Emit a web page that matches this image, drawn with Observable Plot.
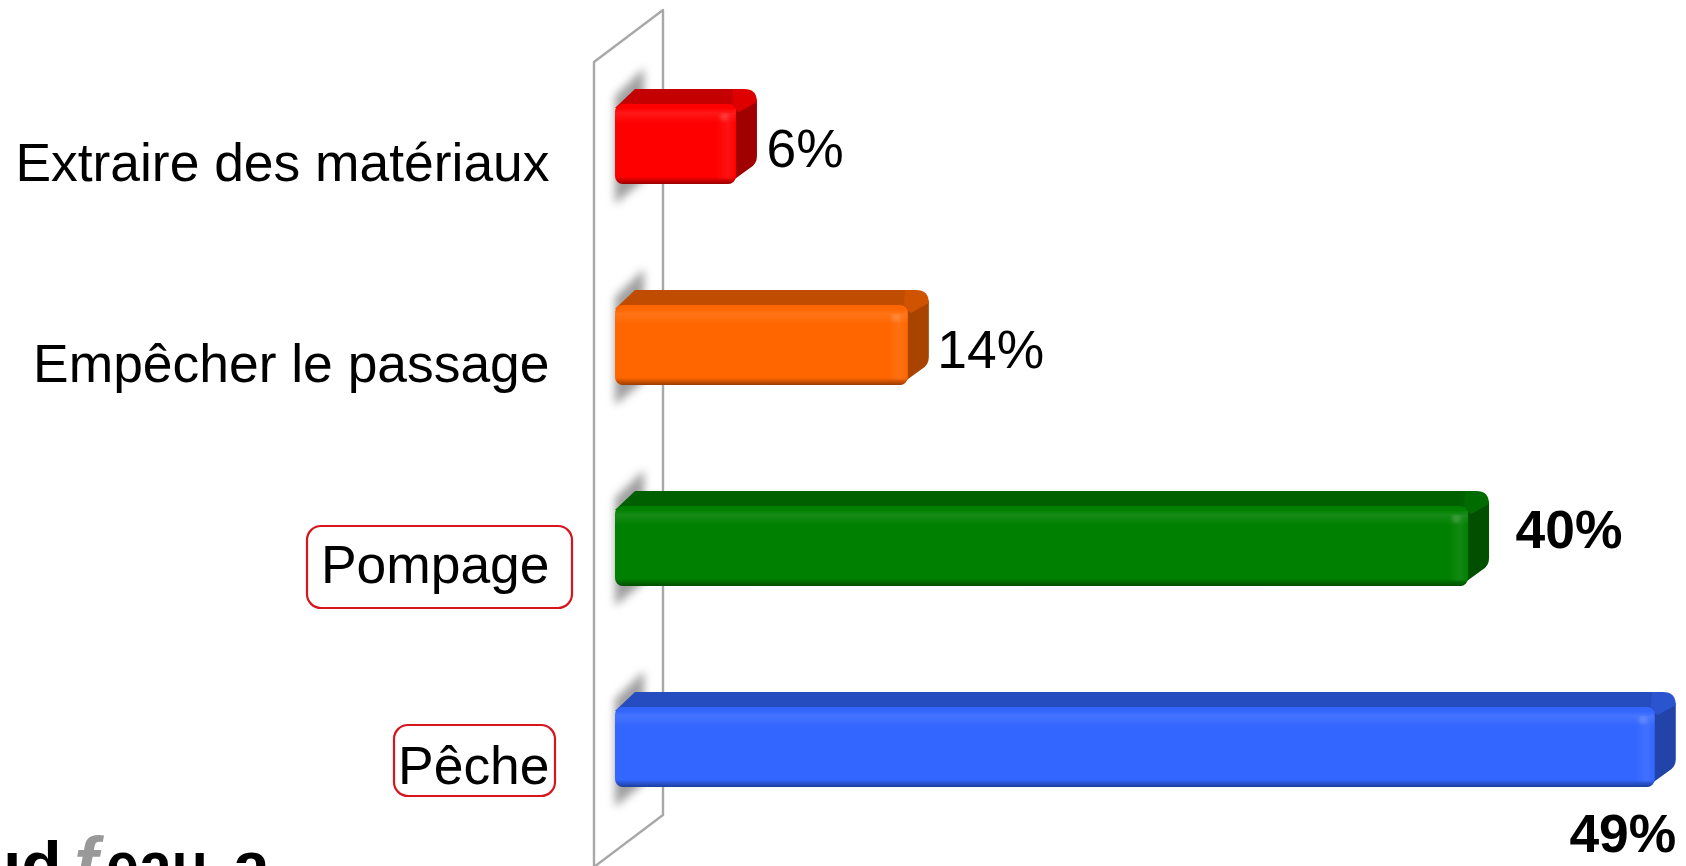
<!DOCTYPE html>
<html><head><meta charset="utf-8">
<script src="https://cdn.jsdelivr.net/npm/d3@7"></script>
<script src="https://cdn.jsdelivr.net/npm/@observablehq/plot@0.6"></script>
<style>html,body{margin:0;padding:0;background:#fff;overflow:hidden}svg{display:block}</style>
</head><body><div id="chart"></div>
<script>
const categories = ["Extraire des matériaux","Empêcher le passage","Pompage","Pêche"];
const values = [5.7,13.8,40.2,49];
const valueLabels = ["6%","14%","40%","49%"];
const frontColors = ["#FF0000","#FF6600","#008000","#3366FF"];
const topColors = ["#C40000","#BF4C00","#006000","#264DBF"];
const sideColors = ["#A00000","#A84300","#005000","#2244A8"];
const cornerColors = ["#DE0000","#CF5300","#006C00","#2A55CF"];
const highlighted = ["Pompage","Pêche"];
const rows = categories.map((c,i)=>({category:c,value:values[i],label:valueLabels[i]}));
const font = "'Liberation Sans', Arial, sans-serif";
const NS = "http://www.w3.org/2000/svg";
const el = (n,a)=>{const e=document.createElementNS(NS,n);for(const k in a)e.setAttribute(k,a[k]);return e;};

const wall = (i,{x,y})=>{
  const g=el("g",{});
  const L=x(0)-21,R=x(0)+48;
  const t0=y(categories[0]),b3=y(categories[3])+y.bandwidth();
  g.appendChild(el("path",{d:`M${L},${t0-42} L${R},${t0-94} V${b3+28} L${L},${b3+80}Z`,fill:"none",stroke:"#a8a8a8","stroke-width":2.4,"stroke-linejoin":"round"}));
  return g;
};
const shadows = (i,{x,y})=>{
  const g=el("g",{style:"filter:blur(4px)"});
  const L=x(0),R=x(0)+29,bw=y.bandwidth();
  for(const c of categories){const t=y(c),b=t+bw;
    g.appendChild(el("path",{d:`M${L},${t-8} L${R},${t-36} V${b-4} L${L},${b+20}Z`,fill:"#a0a0a0"}));}
  return g;
};
const faces = (i,{x,y})=>{
  const g=el("g",{});
  const bw=y.bandwidth(),D=21,H=15,x0=x(0);
  rows.forEach((r,k)=>{
    const t=y(r.category),b=t+bw,x1=x(r.value);
    g.appendChild(el("path",{d:`M${x1-8},${b} L${x1+D-7},${b-16} Q${x1+D},${b-20} ${x1+D},${b-28} V${t-4} L${x1},${t}Z`,fill:sideColors[k]}));
    g.appendChild(el("path",{d:`M${x0},${t+4} L${x0+D-1},${t-H} H${x1+6} L${x1},${t+1}Z`,fill:topColors[k]}));
    g.appendChild(el("path",{d:`M${x1-3},${t-H} H${x1+8} Q${x1+D},${t-H} ${x1+D},${t-2} L${x1+3},${t+8} L${x1-4},${t+3}Z`,fill:cornerColors[k]}));
  });
  return g;
};
const bevels = (i,{x,y})=>{
  const g=el("g",{});
  const defs=el("defs",{});
  const grad=(id,stops,x2,y2)=>{const l=el("linearGradient",{id,x1:0,y1:0,x2,y2});
    stops.forEach(([o,c,a])=>l.appendChild(el("stop",{offset:o,"stop-color":c,"stop-opacity":a})));defs.appendChild(l);};
  grad("bevV",[[0,"#fff",0],[0.05,"#fff",0.0],[0.11,"#fff",0.09],[0.24,"#fff",0],[0.91,"#000",0],[1,"#000",0.4]],0,1);
  grad("bevH",[[0,"#fff",0],[0.6,"#fff",0.07],[1,"#fff",0.0]],1,0);
  g.appendChild(defs);
  const bw=y.bandwidth(),x0=x(0);
  rows.forEach(r=>{
    const t=y(r.category),x1=x(r.value);
    g.appendChild(el("rect",{x:x0,y:t,width:x1-x0,height:bw,rx:8,fill:"url(#bevV)"}));
    g.appendChild(el("rect",{x:x1-20,y:t+9,width:20,height:bw-14,fill:"url(#bevH)"}));
    g.appendChild(el("circle",{cx:x1-12,cy:t+13,r:4,fill:"#fff",opacity:0.12,style:"filter:blur(1.5px)"}));
  });
  return g;
};
const boxes = (i,{x,y})=>{
  const g=el("g",{});
  const spec=[{off:-308,w:265,dy:20,h:82},{off:-221,w:161,dy:18,h:71}];
  highlighted.forEach((c,k)=>{
    const t=y(c),s=spec[k];
    g.appendChild(el("rect",{x:x(0)+s.off,y:t+s.dy,width:s.w,height:s.h,rx:14,fill:"none",stroke:"#d8141c","stroke-width":2.2}));
  });
  return g;
};
const logo = ()=>{
  const g=el("g",{"font-family":font,"font-weight":700,"font-size":66,fill:"#000","text-anchor":"start"});
  const add=(s,a)=>{const t=el("text",a);t.textContent=s;g.appendChild(t);};
  add("ud",{x:-19,y:888});
  add("ƒ",{x:66,y:888,fill:"#999","font-style":"italic","font-size":72});
  add("eau",{x:106,y:888,textLength:102,lengthAdjust:"spacingAndGlyphs"});
  add("a",{x:233,y:888});
  return g;
};
const valueStyle=(k,o)=>Plot.text([rows[k]],{x:"value",y:"category",text:"label",fontFamily:font,fill:"#000",...o});

const chart = Plot.plot({
  width:1686,height:866,margin:0,marginTop:0,marginRight:0,marginBottom:0,marginLeft:0,
  style:{background:"#fff",overflow:"hidden"},
  x:{domain:[0,50],range:[615,1676],axis:null},
  y:{type:"band",domain:categories,range:[42.15,848.85],paddingInner:0.603,paddingOuter:0.3015,axis:null},
  color:{type:"ordinal",domain:categories,range:frontColors},
  marks:[
    wall,shadows,faces,
    Plot.barX(rows,{x:"value",y:"category",fill:"category",rx:8}),
    bevels,
    boxes,
    Plot.text(rows,{x:()=>0,y:"category",text:"category",textAnchor:"end",dx:-66,dy:19,fontSize:53.4,fontFamily:font,fill:"#000"}),
    valueStyle(0,{dx:30,dy:5,textAnchor:"start",fontSize:53.4}),
    valueStyle(1,{dx:29,dy:5,textAnchor:"start",fontSize:53.4}),
    valueStyle(2,{dx:47,dy:-16,textAnchor:"start",fontSize:53.4,fontWeight:700}),
    valueStyle(3,{dx:21,dy:87,textAnchor:"end",fontSize:53.4,fontWeight:700}),
    logo
  ]
});
document.getElementById("chart").appendChild(chart);
</script></body></html>
